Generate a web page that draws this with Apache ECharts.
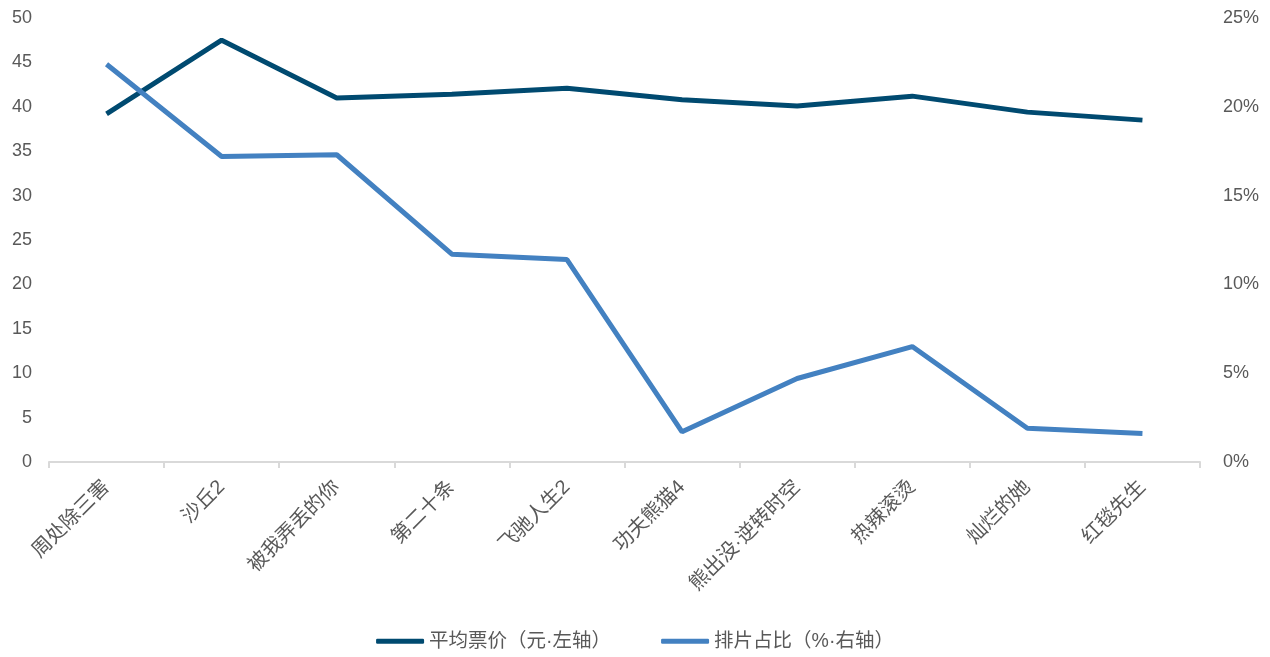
<!DOCTYPE html>
<html><head><meta charset="utf-8">
<script src="https://cdn.jsdelivr.net/npm/echarts@6/dist/echarts.min.js"></script>
<style>html,body{margin:0;padding:0;background:#fff}#c{width:1270px;height:657px}</style>
</head><body><div id="c"></div>
<script>
const categories = ['周处除三害','沙丘2','被我弄丢的你','第二十条','飞驰人生2','功夫熊猫4','熊出没·逆转时空','热辣滚烫','灿烂的她','红毯先生'];
const avgPrice = [39.2, 47.5, 41.0, 41.4, 42.1, 40.8, 40.1, 41.2, 39.4, 38.5];
const screenShare = [22.4, 17.2, 17.3, 11.7, 11.4, 1.7, 4.7, 6.5, 1.9, 1.6];
const seriesNames = ['平均票价（元·左轴）','排片占比（%·右轴）'];
const font = '"Liberation Sans", "Noto Sans CJK SC", sans-serif';
const chart = echarts.init(document.getElementById('c'));
chart.setOption({
  animation: false,
  textStyle: {fontFamily: font},
  grid: {left: 49, right: 70, top: 18, bottom: 195},
  legend: {
    bottom: 1, left: 'center', itemWidth: 48, itemHeight: 5, itemGap: 50,
    textStyle: {fontSize: 19.5, color: '#595959', fontFamily: font},
    icon: 'roundRect',
    data: seriesNames
  },
  xAxis: {
    type: 'category', data: categories, boundaryGap: true,
    axisLine: {lineStyle: {color: '#d9d9d9', width: 2}},
    axisTick: {show: true, alignWithLabel: false, length: 6, lineStyle: {color: '#d9d9d9', width: 2}},
    axisLabel: {rotate: 45, fontSize: 20, color: '#595959', margin: 22, interval: 0, fontFamily: font}
  },
  yAxis: [
    {type: 'value', min: 0, max: 50, interval: 5, splitLine: {show: false},
     axisLine: {show: false}, axisTick: {show: false},
     axisLabel: {fontSize: 18, color: '#595959', margin: 17, fontFamily: font}},
    {type: 'value', min: 0, max: 25, interval: 5, splitLine: {show: false},
     axisLine: {show: false}, axisTick: {show: false},
     axisLabel: {fontSize: 18, color: '#595959', margin: 23, formatter: '{value}%', fontFamily: font}}
  ],
  series: [
    {name: seriesNames[0], type: 'line', yAxisIndex: 0, data: avgPrice, symbol: 'none',
     lineStyle: {color: '#004a70', width: 5}, itemStyle: {color: '#004a70'}},
    {name: seriesNames[1], type: 'line', yAxisIndex: 1, data: screenShare, symbol: 'none',
     lineStyle: {color: '#4381c1', width: 5}, itemStyle: {color: '#4381c1'}}
  ]
});
</script></body></html>
